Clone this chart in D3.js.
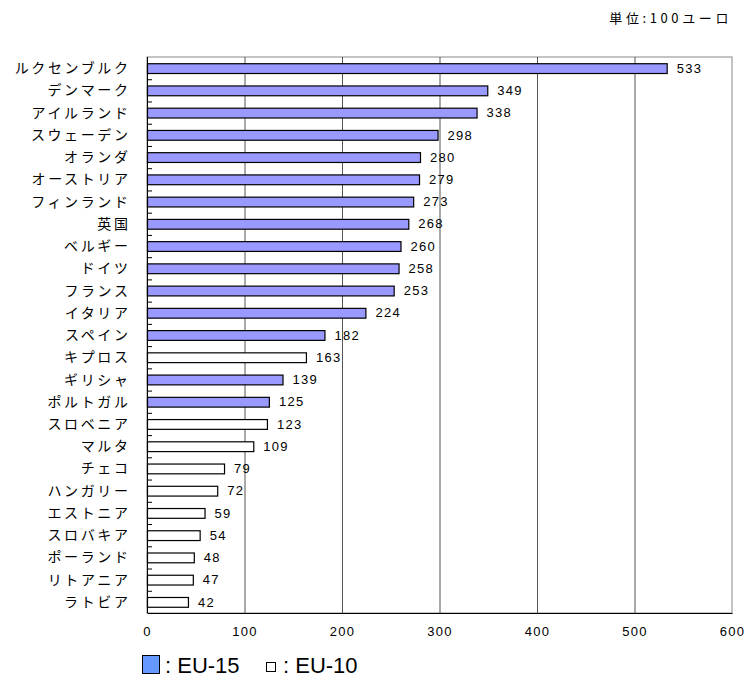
<!DOCTYPE html>
<html>
<head>
<meta charset="utf-8">
<script src="https://cdn.jsdelivr.net/npm/d3@7"></script>
<style>
  body { margin: 0; background: #fff; }
  svg { display: block; font-family: "Noto Sans CJK JP", "DejaVu Sans", sans-serif; }
</style>
</head>
<body>
<svg id="chart" width="747" height="693"></svg>
<script>
// Per-capita figures (unit: 100 euro), ordered top to bottom
const countries = ["ルクセンブルク","デンマーク","アイルランド","スウェーデン","オランダ","オーストリア","フィンランド","英国","ベルギー","ドイツ","フランス","イタリア","スペイン","キプロス","ギリシャ","ポルトガル","スロベニア","マルタ","チェコ","ハンガリー","エストニア","スロバキア","ポーランド","リトアニア","ラトビア"];
const values = [533,349,338,298,280,279,273,268,260,258,253,224,182,163,139,125,123,109,79,72,59,54,48,47,42];
const groups = ["EU-15","EU-15","EU-15","EU-15","EU-15","EU-15","EU-15","EU-15","EU-15","EU-15","EU-15","EU-15","EU-15","EU-10","EU-15","EU-15","EU-10","EU-10","EU-10","EU-10","EU-10","EU-10","EU-10","EU-10","EU-10"];
const xTicks = [0,100,200,300,400,500,600];
const unitLabel = "単位:100ユーロ";

const svg = d3.select("#chart");
const m = { left: 147, right: 732, top: 57, bottom: 613 };

const x = d3.scaleLinear().domain([0, 600]).range([m.left, m.right]);
const y = d3.scaleBand().domain(countries).range([m.top, m.bottom]).paddingInner(0.56).paddingOuter(0.28);
const band = d3.scaleBand().domain(countries).range([m.top, m.bottom]);

// Plot frame and vertical gridlines
svg.append("rect").attr("x", m.left).attr("y", m.top)
  .attr("width", m.right - m.left).attr("height", m.bottom - m.top)
  .attr("fill", "none").attr("stroke", "#888").attr("stroke-width", 1);
svg.append("g").selectAll("line").data(xTicks.slice(1, -1)).join("line")
  .attr("x1", d => x(d) + 0.5).attr("x2", d => x(d) + 0.5)
  .attr("y1", m.top).attr("y2", m.bottom)
  .attr("stroke", "#555").attr("stroke-width", 1);

// Bars
svg.append("g").selectAll("rect").data(countries).join("rect")
  .attr("x", m.left + 0.5)
  .attr("y", (d) => y(d) + 0.5)
  .attr("width", (d, i) => x(values[i]) - m.left)
  .attr("height", y.bandwidth())
  .attr("fill", (d, i) => groups[i] === "EU-15" ? "#9999ff" : "#ffffff")
  .attr("stroke", "#000").attr("stroke-width", 1.2);

// Value labels
svg.append("g").selectAll("text").data(countries).join("text")
  .attr("x", (d, i) => x(values[i]) + 10)
  .attr("y", d => y(d) + y.bandwidth() / 2)
  .attr("dy", "0.36em")
  .attr("font-size", 13).attr("letter-spacing", "1.3px").attr("fill", "#000")
  .attr("font-family", "Liberation Sans, Arial, sans-serif")
  .text((d, i) => values[i]);

// Left axis: boundary ticks pointing into the plot
const yAxisG = svg.append("g");
yAxisG.append("line").attr("x1", m.left + 0.5).attr("x2", m.left + 0.5)
  .attr("y1", m.top).attr("y2", m.bottom).attr("stroke", "#000");
yAxisG.selectAll("line.tick").data(countries.slice(1)).join("line")
  .attr("class", "tick")
  .attr("x1", m.left).attr("x2", m.left + 5)
  .attr("y1", d => band(d) + 0.5).attr("y2", d => band(d) + 0.5)
  .attr("stroke", "#000");
yAxisG.selectAll("text").data(countries).join("text")
  .attr("x", 130.5)
  .attr("y", d => y(d) + y.bandwidth() / 2)
  .attr("dy", "0.36em").attr("text-anchor", "end")
  .attr("font-size", 14).attr("letter-spacing", "2.6px")
  .text(d => d);

// Bottom axis
const xAxis = d3.axisBottom(x).tickValues(xTicks).tickSize(0).tickPadding(14);
const xg = svg.append("g").attr("transform", `translate(0,${m.bottom})`).call(xAxis);
xg.select(".domain").attr("stroke", "#000").attr("stroke-width", 1.2);
xg.selectAll("text").attr("font-size", 13).attr("letter-spacing", "1.3px")
  .attr("font-family", "Liberation Sans, Arial, sans-serif").attr("fill", "#000");

// Unit note
svg.append("text").attr("x", 732).attr("y", 23).attr("text-anchor", "end")
  .attr("font-size", 13).attr("letter-spacing", "3.6px").text(unitLabel);

// Legend
const lg = svg.append("g").attr("font-family", "Liberation Sans Narrow, Liberation Sans, Arial, sans-serif");
lg.append("rect").attr("x", 142.5).attr("y", 655.5).attr("width", 17).attr("height", 18)
  .attr("fill", "#6699ff").attr("stroke", "#000");
lg.append("text").attr("x", 165).attr("y", 673).attr("font-size", 22).text(": EU-15");
lg.append("rect").attr("x", 266.5).attr("y", 662.5).attr("width", 9).attr("height", 9)
  .attr("fill", "#fff").attr("stroke", "#000");
lg.append("text").attr("x", 283).attr("y", 673).attr("font-size", 22).text(": EU-10");
</script>
</body>
</html>
